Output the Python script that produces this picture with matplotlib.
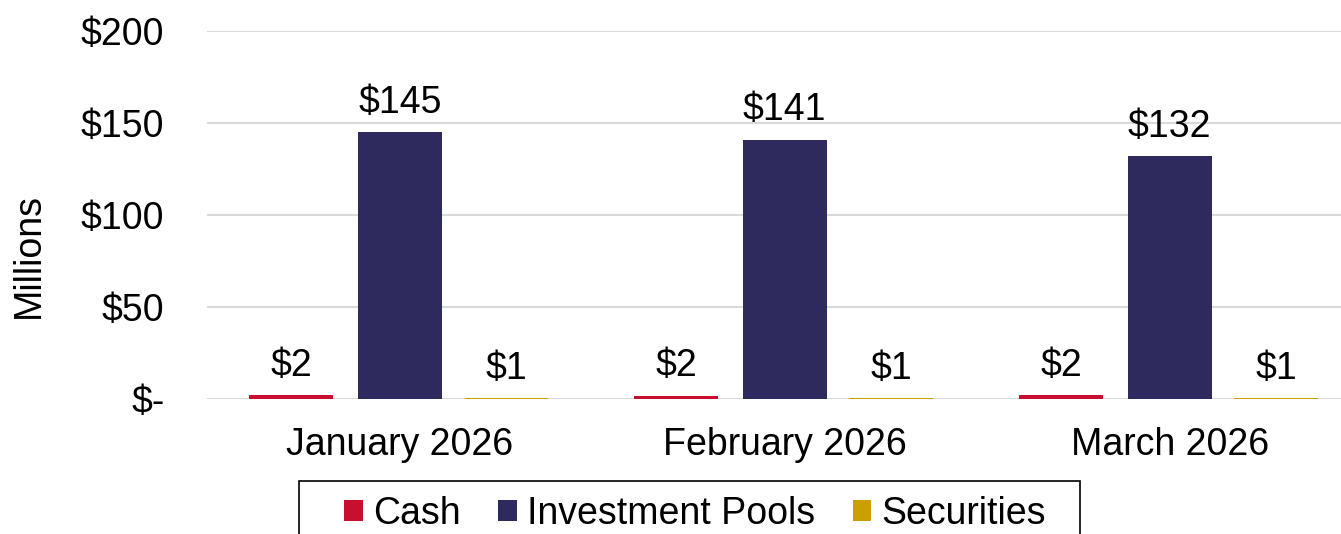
import matplotlib
matplotlib.use("Agg")
import matplotlib.pyplot as plt
from matplotlib.patches import Rectangle
import numpy as np

categories = ["January 2026", "February 2026", "March 2026"]
series_names = ["Cash", "Investment Pools", "Securities"]
cash = [2.1, 1.9, 2.0]
pools = [145, 141, 132]
securities = [0.5, 0.5, 0.5]
yticks = [0, 50, 100, 150, 200]
ytick_labels = ["$-", "$50", "$100", "$150", "$200"]

colors = ["#C8102E", "#2E2A5E", "#C9A000"]

plt.rcParams['font.family'] = ['Liberation Sans', 'DejaVu Sans']
FS = 27

fig = plt.figure(figsize=(13.41, 5.34), dpi=100)
W, H = 1341, 534
left, right = 207.5, 1362
y0, y200 = 399, 31
ax = fig.add_axes([left / W, 1 - y0 / H, (right - left) / W, (y0 - y200) / H])

x = np.arange(len(categories))
width = 0.218
offsets = [-0.282, 0.0, 0.277]
data = [cash, pools, securities]
for vals, off, col, name in zip(data, offsets, colors, series_names):
    bars = ax.bar(x + off, vals, width, color=col, label=name, zorder=3)
    for b, v in zip(bars, vals):
        ax.annotate(f"${max(v, 1):.0f}", (b.get_x() + b.get_width() / 2, b.get_height()),
                    xytext=(0, 8), textcoords="offset points", ha="center", va="bottom",
                    fontsize=FS)

ax.set_xlim(-0.5, 2.5)
ax.set_ylim(0, 200)
ax.set_yticks(yticks)
ax.set_yticklabels(ytick_labels, fontsize=FS)
ax.set_xticks(x)
ax.set_xticklabels(categories, fontsize=FS)
ax.tick_params(axis='y', length=0, pad=31)
ax.tick_params(axis='x', length=0, pad=20)
ax.yaxis.grid(True, color="#D9D9D9", linewidth=1.5, zorder=0)
ax.set_axisbelow(True)
for s in ax.spines.values():
    s.set_visible(False)
ax.set_ylabel("Millions", fontsize=FS)
ax.yaxis.set_label_coords((47 - left) / (right - left), (y0 - 256) / (y0 - y200))

leg = fig.legend(loc="upper left", bbox_to_anchor=(344 / W, 1 - 496 / H), ncol=3,
                 fontsize=FS, frameon=False,
                 handlelength=0.5, handleheight=0.5, handletextpad=0.27,
                 columnspacing=1.0, borderpad=0, borderaxespad=0)

frame = Rectangle((299 / W, -0.1), (1080 - 299) / W, 0.1 + (H - 481) / H,
                  transform=fig.transFigure, fill=False, edgecolor="black",
                  linewidth=1.2, clip_on=False)
fig.patches.append(frame)

fig.savefig("out.png", dpi=100)
